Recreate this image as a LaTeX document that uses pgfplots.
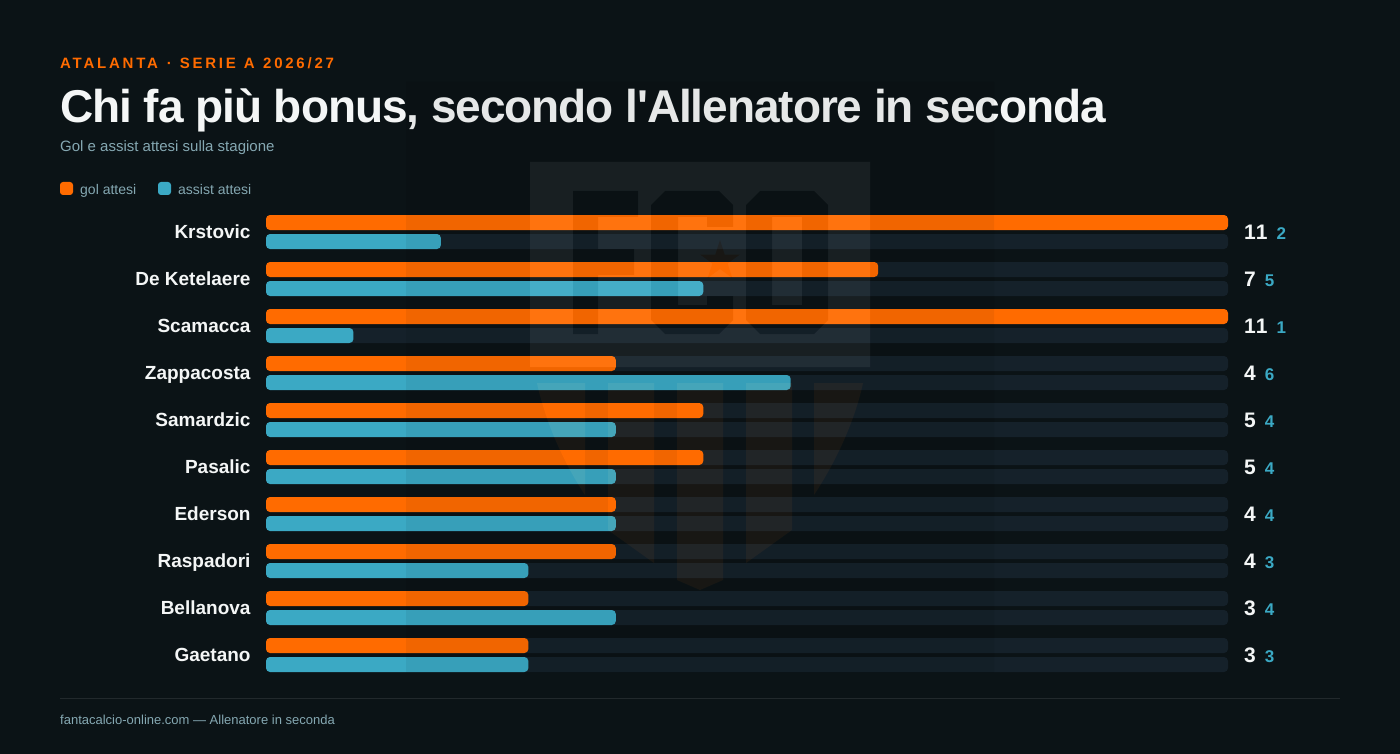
\documentclass[border=0pt]{standalone}
\usepackage{fontspec}
\setmainfont[Ligatures=TeXOff]{Liberation Sans}
\usepackage{pgfplots}
\usepackage{pgfplotstable}
\pgfplotsset{compat=1.18}
\definecolor{bgc}{HTML}{0B1316}
\definecolor{org}{HTML}{FF6B00}
\definecolor{tea}{HTML}{3BA9C4}
\definecolor{trk}{HTML}{15212A}
\definecolor{wht}{HTML}{F4F6F6}
\definecolor{mut}{HTML}{85A8B2}
\definecolor{rul}{HTML}{22292C}
\pgfplotstableread{
row gol assist track
0 11 2 11
1 7 5 11
2 11 1 11
3 4 6 11
4 5 4 11
5 5 4 11
6 4 4 11
7 4 3 11
8 3 4 11
9 3 3 11
}\datatab
\newcommand{\vp}[2]{\fontsize{21}{21}\selectfont\bfseries\addfontfeatures{Kerning=Off}\color{wht}#1\hspace{9pt}{\fontsize{17}{17}\selectfont\color{tea}#2}}
\begin{document}
\begin{tikzpicture}[x=1pt,y=-1pt]
\useasboundingbox (0,0) rectangle (1400,754);
\fill[bgc] (0,0) rectangle (1400,754);
\node[anchor=base west,inner sep=0,text=org] at (60,69) {\fontsize{15}{15}\selectfont\bfseries\addfontfeatures{LetterSpace=18.5}ATALANTA\hspace{2pt} · \hspace{1pt}SERIE\hspace{1pt} A\hspace{1.5pt} 2026/27};
\node[anchor=base west,inner sep=0,text=wht] at (60,123) {\fontsize{46}{46}\selectfont\bfseries\addfontfeatures{LetterSpace=-2.33}Chi fa più bonus, secondo l'Allenatore in seconda};
\node[anchor=base west,inner sep=0,text=mut] at (60,152) {\fontsize{15}{15}\selectfont Gol e assist attesi sulla stagione};
\fill[org,rounded corners=3pt] (60,182) rectangle (73,195);
\node[anchor=base west,inner sep=0,text=mut] at (80,194.5) {\fontsize{14}{14}\selectfont gol attesi};
\fill[tea,rounded corners=3pt] (158,182) rectangle (171,195);
\node[anchor=base west,inner sep=0,text=mut] at (178,194.5) {\fontsize{14}{14}\selectfont assist attesi};
\begin{axis}[
  at={(266pt,-208.5pt)}, anchor=north west,
  scale only axis, width=962pt, height=470pt,
  xmin=0, xmax=11, ymin=-0.5, ymax=9.5, y dir=reverse,
  axis line style={draw=none}, tick style={draw=none},
  xtick=\empty, ytick={0,...,9},
  yticklabels={Krstovic,De Ketelaere,Scamacca,Zappacosta,Samardzic,Pasalic,Ederson,Raspadori,Bellanova,Gaetano},
  y tick label style={anchor=base east,inner sep=0pt,xshift=-11pt,yshift=-6pt,text=wht,font=\fontsize{19}{19}\selectfont\bfseries},
  clip=false,
  xbar, bar width=15pt,
  every axis plot/.append style={draw=none,rounded corners=4pt},
]
\addplot[fill=trk,bar shift=9.5pt] table[x=track,y=row] {\datatab};
\addplot[fill=trk,bar shift=-9.5pt] table[x=track,y=row] {\datatab};
\addplot[fill=org,bar shift=9.5pt] table[x=gol,y=row] {\datatab};
\addplot[fill=tea,bar shift=-9.5pt] table[x=assist,y=row] {\datatab};
\addplot[draw=none,fill=none,bar shift=0pt,point meta=explicit symbolic,
  nodes near coords={\pgfplotspointmeta},
  nodes near coords style={anchor=base west,inner sep=0pt,xshift=16pt,yshift=-7pt}]
  coordinates {(11,0)[\vp{11}{2}] (11,1)[\vp{7}{5}] (11,2)[\vp{11}{1}] (11,3)[\vp{4}{6}] (11,4)[\vp{5}{4}] (11,5)[\vp{5}{4}] (11,6)[\vp{4}{4}] (11,7)[\vp{4}{3}] (11,8)[\vp{3}{4}] (11,9)[\vp{3}{3}]};
\end{axis}
\draw[rul,line width=1pt] (60,698.5) -- (1340,698.5);
\node[anchor=base west,inner sep=0,text=mut] at (60,724) {\fontsize{13}{13}\selectfont fantacalcio-online.com — Allenatore in seconda};
% watermark logo
\begin{scope}[opacity=0.055,transparency group]
\fill[black] (406,82) rectangle (994,672);
\fill[white] (530,162) rectangle (870,367);
\fill[black] (573,191) -- (638,191) -- (638,217) -- (598,217) -- (598,249) -- (634,249) -- (634,275) -- (598,275) -- (598,334) -- (573,334) -- cycle;
\fill[black] (665,191) -- (719,191) -- (733,205) -- (733,227) -- (707,227) -- (707,217) -- (678,217) -- (678,305) -- (707,305) -- (707,296) -- (733,296) -- (733,320) -- (719,334) -- (665,334) -- (651,320) -- (651,205) -- cycle;
\fill[black,even odd rule] (760,191) -- (814,191) -- (828,205) -- (828,320) -- (814,334) -- (760,334) -- (746,320) -- (746,205) -- cycle (772,217) rectangle (802,305);
\fill[org] (720,240) -- (724.7,254.5) -- (740,254.5) -- (727.6,263.5) -- (732.3,278) -- (720,269) -- (707.7,278) -- (712.4,263.5) -- (700,254.5) -- (715.3,254.5) -- cycle;
\fill[org] (537,383) -- (585,383) -- (585,495) .. controls (562,460) and (545,420) .. cycle;
\fill[org] (608,383) -- (654,383) -- (654,563) -- (608,530) -- cycle;
\fill[org] (677,383) -- (723,383) -- (723,580) -- (700,590) -- (677,580) -- cycle;
\fill[org] (746,383) -- (792,383) -- (792,530) -- (746,563) -- cycle;
\fill[org] (863,383) -- (814,383) -- (814,495) .. controls (837,460) and (855,420) .. cycle;
\end{scope}
\end{tikzpicture}
\end{document}
